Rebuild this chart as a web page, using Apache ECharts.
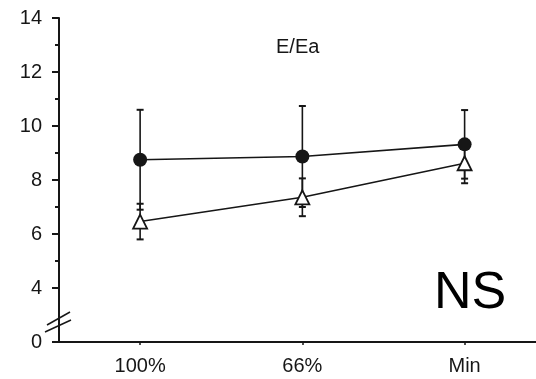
<!DOCTYPE html>
<html><head><meta charset="utf-8">
<script src="https://cdn.jsdelivr.net/npm/echarts@6/dist/echarts.min.js"></script>
<style>html,body{margin:0;padding:0;background:#fff}#c{width:536px;height:379px}</style>
</head><body><div id="c"></div>
<script>
const categories = ['100%', '66%', 'Min'];
const circleMean = [8.75, 8.87, 9.32];
const circleErr = [1.85, 1.87, 1.27];
const triMean = [6.46, 7.36, 8.62];
const triErr = [0.66, 0.70, 0.74];
const yTicks = [2, 4, 6, 8, 10, 12, 14];
const yTickLabels = ['0', '4', '6', '8', '10', '12', '14'];
const yMinorTicks = [5, 7, 9, 11, 13];

const FONT = 'Liberation Sans, Arial, sans-serif';
const INK = '#161616';
const xs = categories.map((c, i) => i + 1);

function errData(mean, err) {
  return mean.map((m, i) => [xs[i], m - err[i], m + err[i]]);
}
function errRender(params, api) {
  const x = api.value(0);
  const lo = api.coord([x, api.value(1)]);
  const hi = api.coord([x, api.value(2)]);
  const w = 3.5;
  const st = { stroke: INK, lineWidth: 2 };
  return { type: 'group', children: [
    { type: 'line', shape: { x1: lo[0], y1: lo[1], x2: hi[0], y2: hi[1] }, style: { stroke: INK, lineWidth: 1.6 } },
    { type: 'line', shape: { x1: lo[0] - w, y1: lo[1], x2: lo[0] + w, y2: lo[1] }, style: st },
    { type: 'line', shape: { x1: hi[0] - w, y1: hi[1], x2: hi[0] + w, y2: hi[1] }, style: st }
  ]};
}

const chart = echarts.init(document.getElementById('c'), null, { renderer: 'canvas' });
const option = {
  animation: false,
  backgroundColor: '#fff',
  grid: { left: 59, right: 0, top: 18, bottom: 37, containLabel: false },
  xAxis: {
    type: 'value', min: 0.5, max: 3.44,
    axisLine: { show: true, onZero: false, lineStyle: { color: INK, width: 2 } },
    axisTick: { show: true, customValues: xs, length: 3, lineStyle: { color: INK, width: 1.5 } },
    axisLabel: { customValues: xs, formatter: v => categories[Math.round(v) - 1] || '', color: INK, fontSize: 20, fontFamily: FONT, margin: 14 },
    splitLine: { show: false }
  },
  yAxis: [{
    type: 'value', min: 2, max: 14, interval: 2,
    axisLine: { show: true, onZero: false, lineStyle: { color: INK, width: 2 } },
    axisTick: { show: true, length: 7, lineStyle: { color: INK, width: 2 } },
    axisLabel: { formatter: v => yTickLabels[yTicks.indexOf(v)], color: INK, fontSize: 20, fontFamily: FONT, margin: 17 },
    splitLine: { show: false }
  }, {
    type: 'value', min: 2, max: 14, position: 'left',
    axisLine: { show: false },
    axisTick: { show: true, customValues: yMinorTicks, length: 4, lineStyle: { color: INK, width: 2 } },
    axisLabel: { show: false },
    splitLine: { show: false }
  }],
  series: [
    { type: 'custom', renderItem: errRender, data: errData(circleMean, circleErr), z: 1, encode: { x: 0, y: [1, 2] } },
    { type: 'custom', renderItem: errRender, data: errData(triMean, triErr), z: 1, encode: { x: 0, y: [1, 2] } },
    { type: 'line', data: triMean.map((v, i) => [xs[i], v]), symbol: 'triangle', symbolSize: [14, 14],
      lineStyle: { color: INK, width: 1.6 }, itemStyle: { color: '#fff', borderColor: INK, borderWidth: 1.8 }, z: 3 },
    { type: 'line', data: circleMean.map((v, i) => [xs[i], v]), symbol: 'circle', symbolSize: 14,
      lineStyle: { color: INK, width: 1.6 }, itemStyle: { color: INK, borderWidth: 0 }, z: 4 }
  ]
};
chart.setOption(option);
// axis break marks on the y axis
const p = chart.convertToPixel({ gridIndex: 0 }, [0.5, 2.74]);
chart.setOption({ graphic: [
  { type: 'text', left: 276, top: 37, style: { text: 'E/Ea', font: '20px ' + FONT, fill: INK } },
  { type: 'text', left: 434, top: 268, style: { text: 'NS', font: '52px ' + FONT, fill: '#000' } },
  { type: 'line', shape: { x1: p[0] - 12, y1: p[1] + 3, x2: p[0] + 11, y2: p[1] - 10 }, style: { stroke: INK, lineWidth: 1.5 }, z: 10 },
  { type: 'line', shape: { x1: p[0] - 14, y1: p[1] + 10, x2: p[0] + 12, y2: p[1] - 2 }, style: { stroke: INK, lineWidth: 1.5 }, z: 10 }
]});
</script></body></html>
